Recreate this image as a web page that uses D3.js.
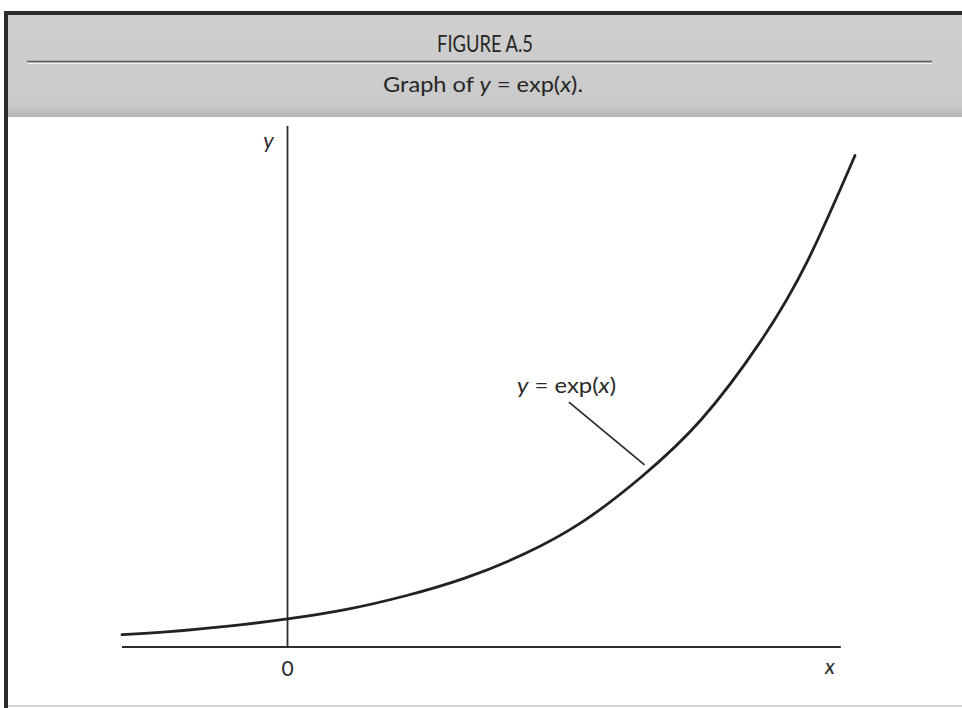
<!DOCTYPE html>
<html>
<head>
<meta charset="utf-8">
<script src="https://cdn.jsdelivr.net/npm/d3@7"></script>
<style>
  html, body { margin: 0; padding: 0; background: #ffffff; }
  svg { display: block; }
</style>
</head>
<body>
<svg id="chart" width="962" height="708"></svg>
<script>
// ---- data (smoothed by eye) ----
const figureTitle = "FIGURE A.5";
const xValues = [-0.70, -0.50, -0.25, 0.00, 0.25, 0.50, 0.75, 1.00, 1.25, 1.50, 1.75, 2.00, 2.20, 2.40];
const yValues = [0.43, 0.53, 0.72, 0.97, 1.30, 1.77, 2.38, 3.21, 4.34, 5.90, 7.86, 10.55, 13.35, 16.98];
const xDomain = [-0.70, 2.40];
const yDomain = [0, 18];
const xAxisEnd = 2.34;
const xTickLabels = ["0"];
const xTickValues = [0];
const labelPos = [1.18, 9.1];          // data coords of annotation text
const leaderFrom = [1.19, 8.46];       // leader line start (data coords)
const leaderTo = [1.51, 6.29];         // leader line end (data coords)

// ---- drawing ----
const svg = d3.select("#chart");
const W = 962, H = 708;

svg.append("rect").attr("x", 0).attr("y", 0).attr("width", W).attr("height", H).attr("fill", "#ffffff");

// header band
const grad = svg.append("defs").append("linearGradient")
  .attr("id", "hdr").attr("x1", 0).attr("y1", 0).attr("x2", 0).attr("y2", 1);
grad.append("stop").attr("offset", "0%").attr("stop-color", "#cfcfcf");
grad.append("stop").attr("offset", "88%").attr("stop-color", "#cacaca");
grad.append("stop").attr("offset", "100%").attr("stop-color", "#b5b5b5");
svg.append("rect").attr("x", 8).attr("y", 15).attr("width", W - 8).attr("height", 102).attr("fill", "url(#hdr)");

// borders
svg.append("line").attr("x1", 4).attr("x2", W).attr("y1", 13).attr("y2", 13)
  .attr("stroke", "#2b2b2b").attr("stroke-width", 4);
svg.append("line").attr("x1", 6).attr("x2", 6).attr("y1", 11).attr("y2", H)
  .attr("stroke", "#2b2b2b").attr("stroke-width", 4);
svg.append("line").attr("x1", 8).attr("x2", W).attr("y1", 706).attr("y2", 706)
  .attr("stroke", "#d4d4d4").attr("stroke-width", 2);

// header rule
svg.append("line").attr("x1", 27).attr("x2", 932).attr("y1", 61.5).attr("y2", 61.5)
  .attr("stroke", "#5e5e5e").attr("stroke-width", 1.6);
svg.append("line").attr("x1", 27).attr("x2", 932).attr("y1", 63.5).attr("y2", 63.5)
  .attr("stroke", "#f2f2f2").attr("stroke-width", 1.2);

const hdrFont = "Lato, 'Open Sans', sans-serif";
svg.append("text").attr("x", 485).attr("y", 52).attr("text-anchor", "middle")
  .attr("font-family", hdrFont).attr("font-size", 23).attr("fill", "#262626")
  .attr("textLength", 96).attr("lengthAdjust", "spacingAndGlyphs")
  .text(figureTitle);

const sub = svg.append("text").attr("x", 483).attr("y", 92).attr("text-anchor", "middle")
  .attr("font-family", hdrFont).attr("font-size", 22).attr("fill", "#262626")
  .attr("textLength", 200).attr("lengthAdjust", "spacingAndGlyphs");
sub.append("tspan").text("Graph of ");
sub.append("tspan").attr("font-style", "italic").text("y");
sub.append("tspan").text(" = exp(");
sub.append("tspan").attr("font-style", "italic").text("x");
sub.append("tspan").text(").");

// scales
const x = d3.scaleLinear().domain(xDomain).range([122, 855]);
const y = d3.scaleLinear().domain(yDomain).range([647, 126]);

// axes
svg.append("line").attr("x1", x(xDomain[0])).attr("x2", x(xAxisEnd))
  .attr("y1", y(0)).attr("y2", y(0)).attr("stroke", "#2e2e2e").attr("stroke-width", 2);
svg.append("line").attr("x1", x(0)).attr("x2", x(0))
  .attr("y1", y(0)).attr("y2", y(yDomain[1])).attr("stroke", "#2e2e2e").attr("stroke-width", 1.8);

const axFont = "Lato, 'Open Sans', sans-serif";
svg.selectAll("text.xtick").data(xTickValues).enter().append("text")
  .attr("class", "xtick")
  .attr("x", d => x(d)).attr("y", y(0) + 29).attr("text-anchor", "middle")
  .attr("font-family", axFont).attr("font-size", 21).attr("fill", "#2a2a2a")
  .text((d, i) => xTickLabels[i]);

svg.append("text").attr("x", x(xAxisEnd) - 11).attr("y", y(0) + 27).attr("text-anchor", "middle")
  .attr("font-family", axFont).attr("font-style", "italic").attr("font-size", 21).attr("fill", "#2a2a2a")
  .text("x");
svg.append("text").attr("x", x(0) - 19).attr("y", y(yDomain[1]) + 22).attr("text-anchor", "middle")
  .attr("font-family", axFont).attr("font-style", "italic").attr("font-size", 22).attr("fill", "#2a2a2a")
  .text("y");

// curve
const pts = xValues.map((v, i) => [v, yValues[i]]);
const line = d3.line().x(d => x(d[0])).y(d => y(d[1])).curve(d3.curveNatural);
svg.append("path").datum(pts).attr("d", line)
  .attr("fill", "none").attr("stroke", "#222222").attr("stroke-width", 2.8)
  .attr("stroke-linecap", "round");

// annotation
svg.append("line")
  .attr("x1", x(leaderFrom[0])).attr("y1", y(leaderFrom[1]))
  .attr("x2", x(leaderTo[0])).attr("y2", y(leaderTo[1]))
  .attr("stroke", "#2a2a2a").attr("stroke-width", 1.7);

const lab = svg.append("text").attr("x", x(labelPos[0])).attr("y", y(labelPos[1]) + 9)
  .attr("text-anchor", "middle").attr("font-family", axFont).attr("font-size", 21).attr("fill", "#2a2a2a")
  .attr("textLength", 99).attr("lengthAdjust", "spacingAndGlyphs");
lab.append("tspan").attr("font-style", "italic").text("y");
lab.append("tspan").text(" = exp(");
lab.append("tspan").attr("font-style", "italic").text("x");
lab.append("tspan").text(")");
</script>
</body>
</html>
